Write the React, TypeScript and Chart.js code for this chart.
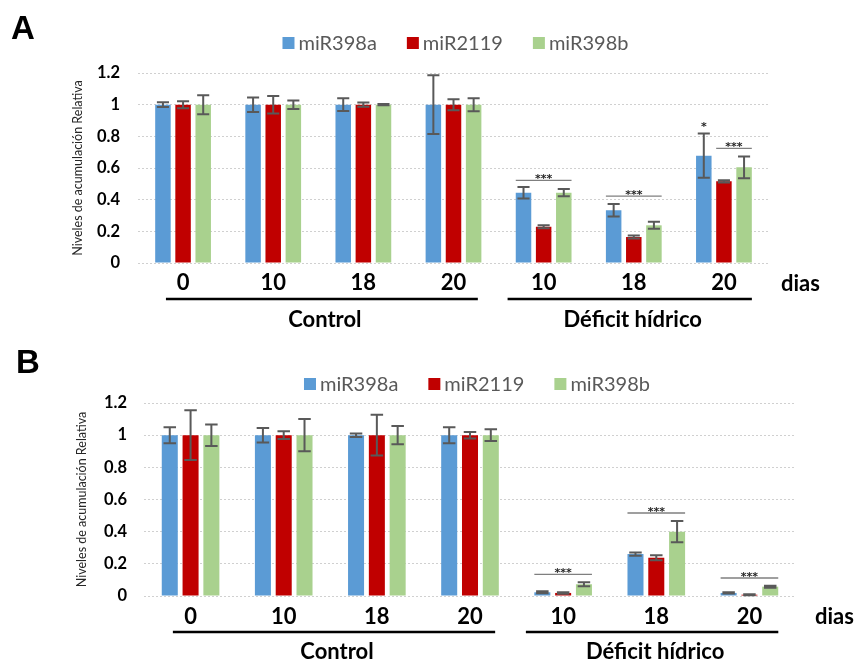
import { useEffect, useRef } from 'react';
import { Chart, registerables } from 'chart.js';

Chart.register(...registerables);

// ---------- shared data ----------
const categories = ['0', '10', '18', '20', '10', '18', '20'];
const seriesNames = ['miR398a', 'miR2119', 'miR398b'];
const seriesColors = ['#5B9BD5', '#C00000', '#A9D18E'];
const yTicks = [0, 0.2, 0.4, 0.6, 0.8, 1, 1.2];
const groupNames = ['Control', 'Déficit hídrico'];
const groupFrom = [0, 4];
const groupTo = [3, 6];
const unitLabel = 'dias';
const yTitle = 'Niveles de acumulación Relativa';

// ---------- panel A ----------
const aMiR398a = [1, 1, 1, 1, 0.444, 0.333, 0.678];
const aMiR398aErr = [0.015, 0.046, 0.04, 0.186, 0.036, 0.039, 0.14];
const aMiR2119 = [1, 1, 1, 1, 0.229, 0.164, 0.516];
const aMiR2119Err = [0.022, 0.055, 0.013, 0.035, 0.009, 0.01, 0.007];
const aMiR398b = [1, 1, 1, 1, 0.444, 0.238, 0.604];
const aMiR398bErr = [0.06, 0.027, 0.004, 0.041, 0.023, 0.022, 0.068];
const aSigCat = [4, 5, 6, 6];
const aSigFrom = [0, 0, 1, 0];
const aSigTo = [2, 2, 2, 0];
const aSigValue = [0.522, 0.423, 0.724, 0.855];
const aSigText = ['***', '***', '***', '*'];
const aSigLine = [true, true, true, false];

// ---------- panel B ----------
const bMiR398a = [1, 1, 1, 1, 0.023, 0.261, 0.019];
const bMiR398aErr = [0.05, 0.045, 0.011, 0.05, 0.006, 0.01, 0.004];
const bMiR2119 = [1, 1, 1, 1, 0.019, 0.238, 0.008];
const bMiR2119Err = [0.155, 0.024, 0.127, 0.02, 0.005, 0.015, 0.003];
const bMiR398b = [1, 1, 1, 1, 0.073, 0.4, 0.058];
const bMiR398bErr = [0.067, 0.1, 0.057, 0.037, 0.013, 0.066, 0.006];
const bSigCat = [4, 5, 6];
const bSigFrom = [0, 0, 0];
const bSigTo = [2, 2, 2];
const bSigValue = [0.135, 0.516, 0.112];
const bSigText = ['***', '***', '***'];
const bSigLine = [true, true, true];

const panels = [
  {
    letter: 'A',
    top: 0,
    height: 330,
    values: [aMiR398a, aMiR2119, aMiR398b],
    errors: [aMiR398aErr, aMiR2119Err, aMiR398bErr],
    sig: { cat: aSigCat, from: aSigFrom, to: aSigTo, value: aSigValue, text: aSigText, line: aSigLine },
    layout: {
      padLeft: 66, padRight: 89, padTop: 73, yWidth: 72, yTickPad: 18, titlePad: 4, xHeight: 67, xTickPad: 7,
      letterX: 11, letterY: 39, legendY: 43, legendDx: 2, diasDx: 12, diasDy: 21,
      bracketY: 299, groupLabelY: 320,
    },
  },
  {
    letter: 'B',
    top: 330,
    height: 332,
    values: [bMiR398a, bMiR2119, bMiR398b],
    errors: [bMiR398aErr, bMiR2119Err, bMiR398bErr],
    sig: { cat: bSigCat, from: bSigFrom, to: bSigTo, value: bSigValue, text: bSigText, line: bSigLine },
    layout: {
      padLeft: 70, padRight: 62, padTop: 73, yWidth: 74, yTickPad: 17, titlePad: 4, xHeight: 66, xTickPad: 8,
      letterX: 16, letterY: 43, legendY: 54, legendDx: 7, diasDx: 19, diasDy: 21,
      bracketY: 302, groupLabelY: 322,
    },
  },
];

const bracketStart = [-0.19, -0.40];
const bracketEnd = [0.27, 0.31];

const overlayPlugin = {
  id: 'overlay',
  afterDatasetsDraw(chart: any, _args: any, opts: any) {
    const ctx = chart.ctx as CanvasRenderingContext2D;
    const ys = chart.scales.y;
    const xs = chart.scales.x;
    const ca = chart.chartArea;
    const L = opts.layout;
    ctx.save();

    // error bars
    chart.data.datasets.forEach((ds: any, i: number) => {
      const meta = chart.getDatasetMeta(i);
      meta.data.forEach((el: any, j: number) => {
        const v = ds.data[j];
        const e = ds.errors[j];
        const top = ys.getPixelForValue(v + e);
        const bot = ys.getPixelForValue(v - e);
        const cap = (el.width * 0.78) / 2;
        ctx.strokeStyle = '#595959';
        ctx.lineWidth = 2;
        ctx.beginPath();
        ctx.moveTo(el.x, top);
        ctx.lineTo(el.x, bot);
        ctx.moveTo(el.x - cap, top);
        ctx.lineTo(el.x + cap, top);
        ctx.moveTo(el.x - cap, bot);
        ctx.lineTo(el.x + cap, bot);
        ctx.stroke();
      });
    });

    // significance marks
    const s = opts.sig;
    for (let k = 0; k < s.cat.length; k++) {
      const m0 = chart.getDatasetMeta(s.from[k]).data[s.cat[k]];
      const m1 = chart.getDatasetMeta(s.to[k]).data[s.cat[k]];
      const left = m0.x - m0.width / 2;
      const right = m1.x + m1.width / 2;
      const yy = ys.getPixelForValue(s.value[k]);
      if (s.line[k]) {
        ctx.strokeStyle = '#7f7f7f';
        ctx.lineWidth = 1.3;
        ctx.beginPath();
        ctx.moveTo(left, yy);
        ctx.lineTo(right, yy);
        ctx.stroke();
      }
      ctx.fillStyle = '#262626';
      ctx.font = 'bold 11px "DejaVu Sans"';
      ctx.textAlign = 'center';
      ctx.textBaseline = 'alphabetic';
      ctx.fillText(s.text[k], (left + right) / 2, yy + 2);
    }

    // legend
    ctx.font = '20px Lato';
    const box = 12;
    const gap = 4;
    const spacing = 30;
    const widths = seriesNames.map((n) => ctx.measureText(n).width);
    const total = widths.reduce((a, b) => a + box + gap + b, 0) + spacing * (seriesNames.length - 1);
    let lx = (ca.left + ca.right) / 2 + L.legendDx - total / 2;
    seriesNames.forEach((n, i) => {
      ctx.fillStyle = seriesColors[i];
      ctx.fillRect(lx, L.legendY - box / 2, box, box);
      ctx.fillStyle = '#595959';
      ctx.textAlign = 'left';
      ctx.textBaseline = 'middle';
      ctx.fillText(n, lx + box + gap, L.legendY + 1);
      lx += box + gap + widths[i] + spacing;
    });

    // panel letter
    ctx.fillStyle = '#000';
    ctx.font = 'bold 33px "Liberation Sans"';
    ctx.textAlign = 'left';
    ctx.textBaseline = 'alphabetic';
    ctx.fillText(opts.letter, L.letterX, L.letterY);

    // unit label
    ctx.font = 'bold 22px Lato';
    ctx.textBaseline = 'middle';
    ctx.fillText(unitLabel, ca.right + L.diasDx, ca.bottom + L.diasDy);

    // group brackets
    const catW = (ca.right - ca.left) / categories.length;
    groupNames.forEach((g, i) => {
      const x0 = xs.getPixelForValue(groupFrom[i]) + bracketStart[i] * catW;
      const x1 = xs.getPixelForValue(groupTo[i]) + bracketEnd[i] * catW;
      ctx.strokeStyle = '#000';
      ctx.lineWidth = 2.5;
      ctx.beginPath();
      ctx.moveTo(x0, L.bracketY);
      ctx.lineTo(x1, L.bracketY);
      ctx.stroke();
      ctx.fillStyle = '#000';
      ctx.font = 'bold 22px Lato';
      ctx.textAlign = 'center';
      ctx.textBaseline = 'middle';
      ctx.fillText(g, (x0 + x1) / 2 + 3, L.groupLabelY);
    });

    ctx.restore();
  },
};

function Panel({ cfg }: { cfg: any }) {
  const ref = useRef<HTMLCanvasElement>(null);
  useEffect(() => {
    const L = cfg.layout;
    const chart = new Chart(ref.current as HTMLCanvasElement, {
      type: 'bar',
      data: {
        labels: categories,
        datasets: cfg.values.map((vals: number[], i: number) => ({
          label: seriesNames[i],
          data: vals,
          errors: cfg.errors[i],
          backgroundColor: seriesColors[i],
          borderWidth: 0,
          categoryPercentage: 0.67,
          barPercentage: 0.77,
        })),
      } as any,
      options: {
        responsive: false,
        animation: false,
        devicePixelRatio: 1,
        layout: { padding: { left: L.padLeft, right: L.padRight, top: L.padTop, bottom: 0 } },
        plugins: {
          legend: { display: false },
          tooltip: { enabled: false },
          overlay: { letter: cfg.letter, sig: cfg.sig, layout: L },
        } as any,
        scales: {
          x: {
            grid: { display: false, drawTicks: false },
            border: { display: false },
            ticks: {
              font: { family: 'Lato', weight: 'bold', size: 22 },
              color: '#000',
              padding: L.xTickPad,
              maxRotation: 0,
              autoSkip: false,
            },
            afterFit: (s: any) => {
              s.height = L.xHeight;
            },
          },
          y: {
            min: 0,
            max: 1.2,
            afterBuildTicks: (s: any) => {
              s.ticks = yTicks.map((v) => ({ value: v }));
            },
            grid: { color: '#d0d0d0', drawTicks: false, lineWidth: 1 },
            border: { display: false, dash: [2, 2] },
            ticks: {
              font: { family: 'Lato', weight: 'bold', size: 16.5 },
              color: '#000',
              padding: L.yTickPad,
              callback: (v: any) => String(+Number(v).toFixed(1)),
            },
            title: {
              display: true,
              text: yTitle,
              font: { family: 'Lato', size: 12.5 },
              color: '#262626',
              padding: { top: L.titlePad, bottom: 0 },
            },
            afterFit: (s: any) => {
              s.width = L.yWidth;
            },
          },
        },
      } as any,
      plugins: [overlayPlugin],
    });
    return () => chart.destroy();
  }, [cfg]);
  return (
    <canvas
      ref={ref}
      width={858}
      height={cfg.height}
      style={{ position: 'absolute', left: 0, top: cfg.top, width: 858, height: cfg.height, display: 'block' }}
    />
  );
}

export default function App() {
  return (
    <div style={{ position: 'absolute', left: 0, top: 0, width: 858, height: 662, background: '#fff' }}>
      {panels.map((p) => (
        <Panel key={p.letter} cfg={p} />
      ))}
    </div>
  );
}
